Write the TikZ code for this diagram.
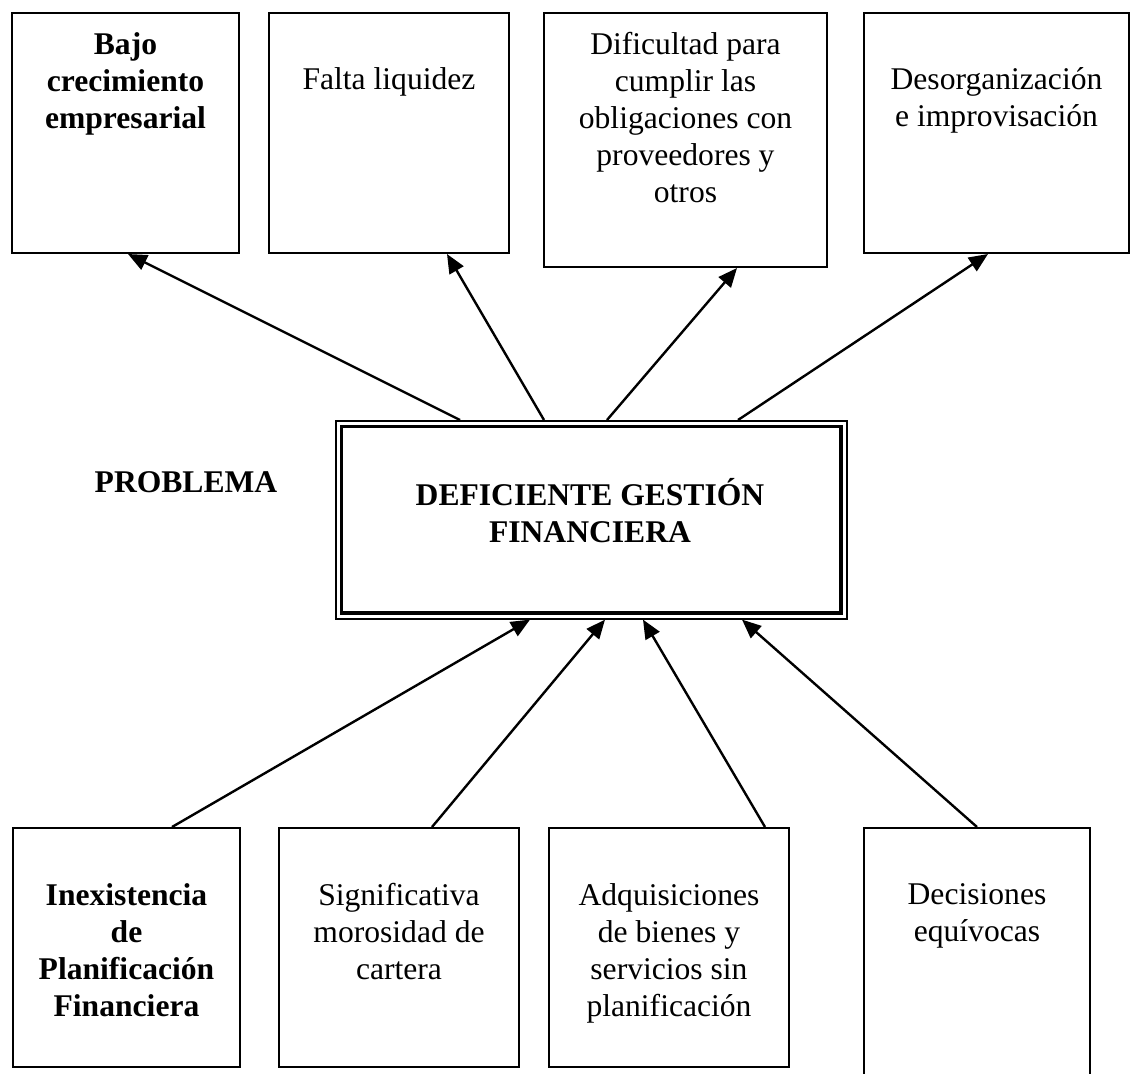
\documentclass[tikz,border=0pt]{standalone}
\usepackage{fontspec}
\setmainfont{Liberation Serif}
\usetikzlibrary{arrows.meta,positioning,calc}
\tikzset{
	caja/.style={draw,line width=1pt,anchor=north west,inner sep=0pt},
	texto/.style={anchor=north,align=center,inner sep=0pt,font=\fontsize{15.8}{18.5}\selectfont},
	flecha/.style={line width=1.2pt,-{Triangle[length=9.5pt,width=8pt]}}
}
\begin{document}
\begin{tikzpicture}[x=0.5pt,y=-0.5pt]
	\useasboundingbox (0,0) rectangle (1136,1073);
	%%Cajas de efectos (arriba)
	\node[caja,minimum width=113.5pt,minimum height=120pt] (e1) at (11,12) {};
	\node[caja,minimum width=120pt,minimum height=120pt] (e2) at (268,12) {};
	\node[caja,minimum width=141.5pt,minimum height=127pt] (e3) at (543,12) {};
	\node[caja,minimum width=132.5pt,minimum height=120pt] (e4) at (863,12) {};
	\node[texto,font=\fontsize{15.8}{18.5}\selectfont\bfseries,below=10pt of e1.north] (te1) {Bajo\\crecimiento\\empresarial};
	\node[texto,below=27.5pt of e2.north] (te2) {Falta liquidez};
	\node[texto,below=10pt of e3.north] (te3) {Dificultad para\\cumplir las\\obligaciones con\\proveedores y\\otros};
	\node[texto,below=27.5pt of e4.north] (te4) {Desorganización\\e improvisación};
	%%Problema central (borde doble)
	\node[caja,line width=0.8pt,minimum width=255.5pt,minimum height=99pt] (prob) at (335,420) {};
	\draw[line width=1.6pt] ([shift={(3.3pt,-3.3pt)}]prob.north west) rectangle ([shift={(-3.3pt,3.3pt)}]prob.south east);
	\node[texto,anchor=center,font=\fontsize{15.8}{18.5}\selectfont\bfseries] (tprob) at (590,511) {DEFICIENTE GESTIÓN\\FINANCIERA};
	\node[texto,anchor=center,font=\fontsize{15.8}{18.5}\selectfont\bfseries] (etiq) at (186,482) {PROBLEMA};
	%%Cajas de causas (abajo)
	\node[caja,minimum width=113.5pt,minimum height=119.5pt] (c1) at (12,827) {};
	\node[caja,minimum width=120pt,minimum height=119.5pt] (c2) at (278,827) {};
	\node[caja,minimum width=120pt,minimum height=119.5pt] (c3) at (548,827) {};
	\node[caja,minimum width=113pt,minimum height=130pt] (c4) at (863,827) {};
	\node[texto,font=\fontsize{15.8}{18.5}\selectfont\bfseries,below=28pt of c1.north] (tc1) {Inexistencia\\de\\Planificación\\Financiera};
	\node[texto,below=28pt of c2.north] (tc2) {Significativa\\morosidad de\\cartera};
	\node[texto,below=28pt of c3.north] (tc3) {Adquisiciones\\de bienes y\\servicios sin\\planificación};
	\node[texto,below=28pt of c4.north] (tc4) {Decisiones\\equívocas};
	%%Flechas hacia los efectos
	\draw[flecha] (460,0 |- prob.north) -- (128,0 |- e1.south);
	\draw[flecha] (544,0 |- prob.north) -- (447,0 |- e2.south);
	\draw[flecha] (607,0 |- prob.north) -- (737,0 |- e3.south);
	\draw[flecha] (738,0 |- prob.north) -- (988,0 |- e4.south);
	%%Flechas desde las causas
	\draw[flecha] (172,0 |- c1.north) -- (530,0 |- prob.south);
	\draw[flecha] (432,0 |- c2.north) -- (605,0 |- prob.south);
	\draw[flecha] (765,0 |- c3.north) -- (643,0 |- prob.south);
	\draw[flecha] (977,0 |- c4.north) -- (742,0 |- prob.south);
\end{tikzpicture}
\end{document}
